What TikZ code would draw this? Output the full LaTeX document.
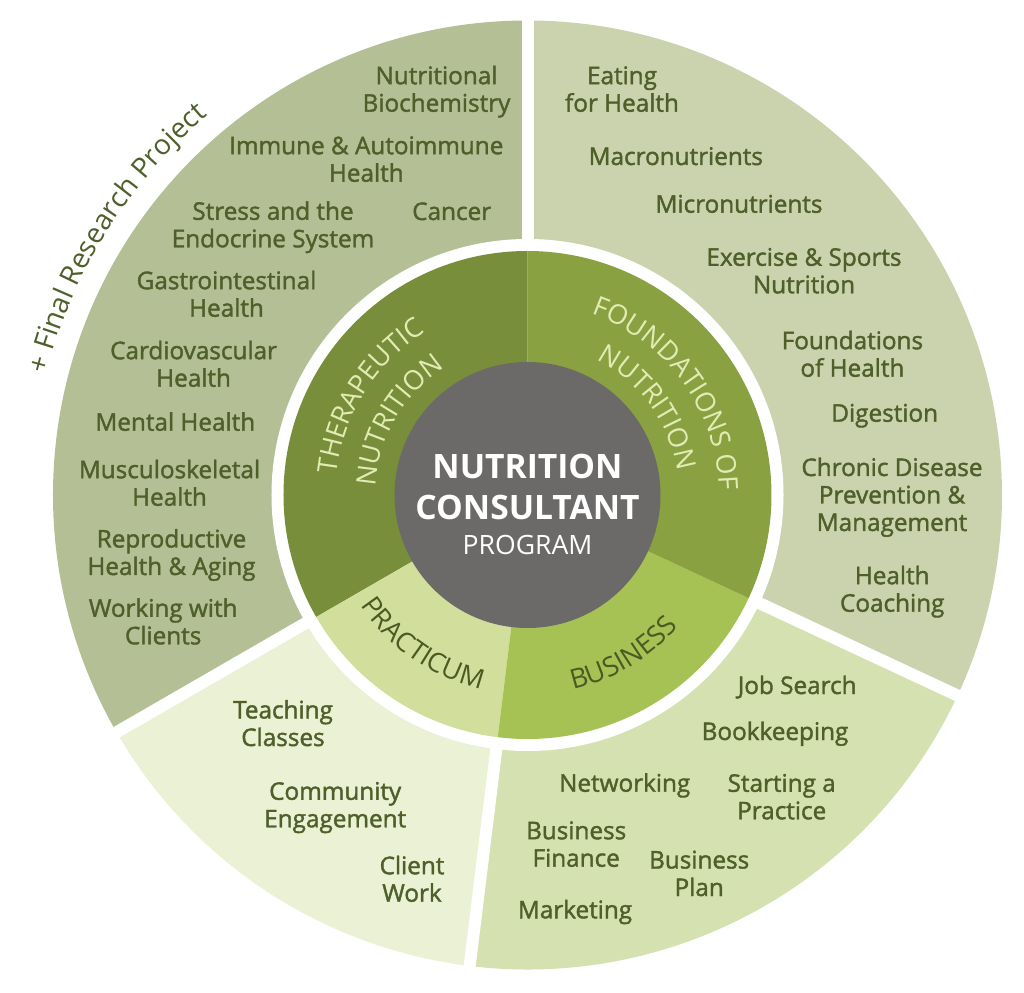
\documentclass[tikz,border=0pt]{standalone}
\usepackage{fontspec}
\setmainfont{Open Sans}
\newfontfamily\itemfont{Open Sans}[FakeBold=1.6]
\usetikzlibrary{decorations.text}
\definecolor{outTher}{HTML}{B4BF96}
\definecolor{outFound}{HTML}{CBD3AE}
\definecolor{outBus}{HTML}{D5E1B0}
\definecolor{outPrac}{HTML}{EAF1D5}
\definecolor{midTher}{HTML}{798E3A}
\definecolor{midFound}{HTML}{8AA142}
\definecolor{midBus}{HTML}{A6C154}
\definecolor{midPrac}{HTML}{D2DE9C}
\definecolor{hub}{HTML}{6B6A68}
\definecolor{txt}{HTML}{4F5F2A}
\definecolor{ringLight}{HTML}{E2EBB3}
\definecolor{ringDark}{HTML}{4A5A22}
\newcommand\ringfont{\fontsize{27}{30}\selectfont}
\newcommand\finalfont{\fontsize{28}{30}\selectfont}
\tikzset{
  item/.style={font=\itemfont\fontsize{24.3}{27.5}\selectfont, text=txt, align=center, anchor=base, inner sep=0pt},
  gapline/.style={white, line width=12pt},
  ringtext/.style={decorate, decoration={text along path, text align=center, text color=#1}}
}
\begin{document}
\begin{tikzpicture}[x=1pt,y=1pt]
\useasboundingbox (-527.5,-497) rectangle (496.5,495);
% outer sectors
\fill[outTher] (0,0) -- (90:474.5pt) arc[start angle=90, end angle=210, radius=474.5pt] -- cycle;
\fill[outPrac] (0,0) -- (210:474.5pt) arc[start angle=210, end angle=263, radius=474.5pt] -- cycle;
\fill[outBus] (0,0) -- (263:474.5pt) arc[start angle=263, end angle=335, radius=474.5pt] -- cycle;
\fill[outFound] (0,0) -- (335:474.5pt) arc[start angle=335, end angle=450, radius=474.5pt] -- cycle;
% separating gaps
\draw[gapline] (0,0) -- (90:490pt);
\draw[gapline] (0,0) -- (210:490pt);
\draw[gapline] (0,0) -- (263:490pt);
\draw[gapline] (0,0) -- (335:490pt);
\fill[white] (0,0) circle[radius=256pt];
% middle ring
\fill[midTher] (0,0) -- (90:244pt) arc[start angle=90, end angle=210, radius=244pt] -- cycle;
\fill[midPrac] (0,0) -- (210:244pt) arc[start angle=210, end angle=263, radius=244pt] -- cycle;
\fill[midBus] (0,0) -- (263:244pt) arc[start angle=263, end angle=335, radius=244pt] -- cycle;
\fill[midFound] (0,0) -- (335:244pt) arc[start angle=335, end angle=450, radius=244pt] -- cycle;
% hub
\fill[hub] (0,0) circle[radius=133pt];
\node[font=\bfseries\fontsize{33.6}{41.7}\selectfont, text=white, align=center, anchor=base, inner sep=0pt] (hubtitle) at (0,-25) {NUTRITION\\CONSULTANT};
\node[font=\fontsize{26.6}{30}\selectfont, text=white, anchor=base, inner sep=0pt] (hubsub) at (0,-60) {PROGRAM};
% ring labels
\path[ringtext=ringLight, decoration={text={|\ringfont|THERAPEUTIC}}] (206:192pt) arc[start angle=206, end angle=90, radius=192pt];
\path[ringtext=ringLight, decoration={text={|\ringfont|NUTRITION}}] (210:152pt) arc[start angle=210, end angle=90, radius=152pt];
\path[ringtext=ringLight, decoration={text={|\ringfont|FOUNDATIONS OF}}] (90:192pt) arc[start angle=90, end angle=-18, radius=192pt];
\path[ringtext=ringLight, decoration={text={|\ringfont|NUTRITION}}] (90:152pt) arc[start angle=90, end angle=-18, radius=152pt];
\path[ringtext=ringDark, decoration={text={|\ringfont|PRACTICUM}}] (210:200pt) arc[start angle=210, end angle=260, radius=200pt];
\path[ringtext=ringDark, decoration={text={|\ringfont|BUSINESS}}] (270:200pt) arc[start angle=270, end angle=332, radius=200pt];
\path[ringtext=txt, decoration={text={|\finalfont|+ Final Research Project}}] (200:496pt) arc[start angle=200, end angle=96, radius=496pt];
% therapeutic items
\node[item] (nb) at (-91,383.3) {Nutritional\\Biochemistry};
\node[item] (ia) at (-161.2,313.3) {Immune \& Autoimmune\\Health};
\node[item] (ca) at (-75.8,275) {Cancer};
\node[item] (se) at (-254.5,247.7) {Stress and the\\Endocrine System};
\node[item] (gi) at (-301,178.3) {Gastrointestinal\\Health};
\node[item] (cv) at (-333.9,108.3) {Cardiovascular\\Health};
\node[item] (mh) at (-352.2,64.3) {Mental Health};
\node[item] (ms) at (-358,-10.7) {Musculoskeletal\\Health};
\node[item] (rh) at (-356,-80) {Reproductive\\Health \& Aging};
\node[item] (wc) at (-364.3,-149.3) {Working with\\Clients};
% foundations items
\node[item] (eh) at (94.5,383.3) {Eating\\for Health};
\node[item] (ma) at (148.3,330) {Macronutrients};
\node[item] (mi) at (211.5,282.3) {Micronutrients};
\node[item] (es) at (276.5,201.7) {Exercise \& Sports\\Nutrition};
\node[item] (fh) at (324.9,118.3) {Foundations\\of Health};
\node[item] (di) at (357.2,73.3) {Digestion};
\node[item] (cd) at (364.5,-36) {Chronic Disease\\Prevention \&\\Management};
\node[item] (hc) at (364.7,-116.7) {Health\\Coaching};
% business items
\node[item] (js) at (269.7,-199) {Job Search};
\node[item] (bk) at (247.5,-245) {Bookkeeping};
\node[item] (nw) at (97.2,-296.7) {Networking};
\node[item] (sp) at (254.2,-324.3) {Starting a\\Practice};
\node[item] (bf) at (48.7,-371.7) {Business\\Finance};
\node[item] (bp) at (171.7,-401) {Business\\Plan};
\node[item] (mk) at (47.5,-423.3) {Marketing};
% practicum items
\node[item] (tc) at (-244.5,-251) {Teaching\\Classes};
\node[item] (ce) at (-192.3,-332.3) {Community\\Engagement};
\node[item] (cw) at (-115.5,-406.7) {Client\\Work};
\end{tikzpicture}
\end{document}
